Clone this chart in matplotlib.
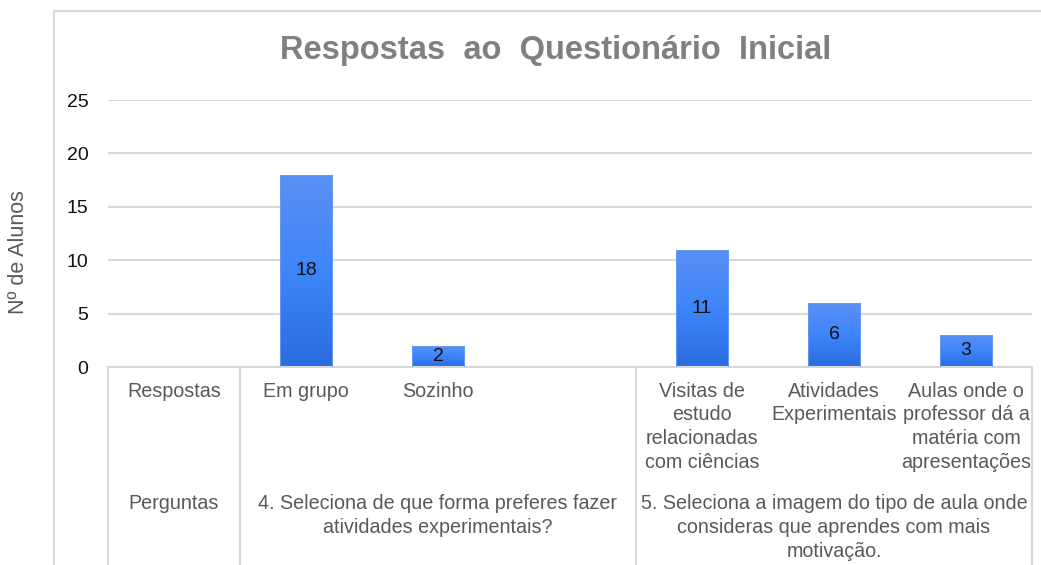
import numpy as np
import matplotlib
matplotlib.use('Agg')
import matplotlib.pyplot as plt
from matplotlib.colors import LinearSegmentedColormap
from matplotlib.patches import Rectangle

plt.rcParams['font.family'] = ['Liberation Sans', 'DejaVu Sans']

# categories (first level) and values, None = no bar
categorias = ['Respostas', 'Em grupo', 'Sozinho', '',
              'Visitas de\nestudo\nrelacionadas\ncom ciências',
              'Atividades\nExperimentais',
              'Aulas onde o\nprofessor dá a\nmatéria com\napresentações']
valores = [None, 18, 2, None, 11, 6, 3]

# second level (questions) with the category span they cover
perguntas = ['Perguntas',
             '4. Seleciona de que forma preferes fazer\natividades experimentais?',
             '5. Seleciona a imagem do tipo de aula onde\nconsideras que aprendes com mais\nmotivação.']
perguntas_span = [(0, 0), (1, 3), (4, 6)]

yticks = [0, 5, 10, 15, 20, 25]

W, H = 1041, 565
fig = plt.figure(figsize=(W / 100, H / 100), dpi=100)
ax = fig.add_axes([108 / W, (H - 367) / H, (1032 - 108) / W, (367 - 100) / H])

grid_c = '#d9d9d9'
txt_c = '#595959'

# chart border (left and top visible)
fig.patches.append(Rectangle((54 / W, -0.1), 1.2, (H - 11) / H + 0.1,
                             transform=fig.transFigure, fill=False,
                             edgecolor=grid_c, linewidth=1.5, zorder=0))

x = np.arange(len(categorias))

cmap = LinearSegmentedColormap.from_list('barra', ['#2a6ce0', '#3d86fa', '#5b90f3'])
grad = np.linspace(0, 1, 256).reshape(-1, 1)

for xi, v in zip(x, valores):
    if v is None:
        continue
    bar = ax.bar(xi, v, width=0.4, color='none', edgecolor='#6a9cf5', linewidth=0.6, zorder=3)[0]
    im = ax.imshow(grad, cmap=cmap, origin='lower', aspect='auto',
                   extent=[xi - 0.2, xi + 0.2, 0, v], zorder=2)
    im.set_clip_path(bar)
    ax.text(xi, v / 2, str(v), ha='center', va='center', fontsize=14, color='#111111', zorder=4)

ax.set_xlim(-0.5, len(categorias) - 0.5)
ax.set_ylim(0, 25)

ax.set_yticks(yticks)
ax.set_yticklabels([str(t) for t in yticks], fontsize=14, color='#111111')
ax.yaxis.grid(True, color=grid_c, linewidth=1.5)
ax.set_axisbelow(True)
ax.tick_params(axis='y', length=0, pad=14)
ax.set_xticks([])
for s in ['top', 'right', 'left']:
    ax.spines[s].set_visible(False)
ax.spines['bottom'].set_color(grid_c)
ax.spines['bottom'].set_linewidth(1.5)

ph = 367 - 100
ax.set_ylabel('Nº de Alunos', fontsize=15.5, color=txt_c)
ax.yaxis.set_label_coords((29 - 108) / 924, (367 - 252) / ph)

# category table below the axis
tr = ax.get_xaxis_transform()
def ypix(py):
    return (367 - py) / ph

for bx in [-0.5, 0.5, 3.5, 6.5]:
    ax.plot([bx, bx], [0, ypix(570)], transform=tr, color=grid_c, linewidth=1.5, clip_on=False)

for xi, lab in zip(x, categorias):
    ax.text(xi, ypix(382), lab, transform=tr, ha='center', va='top', fontsize=14.2,
            color=txt_c, linespacing=1.3, clip_on=False)

for lab, (a, b) in zip(perguntas, perguntas_span):
    ax.text((a + b) / 2, ypix(494), lab, transform=tr, ha='center', va='top', fontsize=14.2,
            color=txt_c, linespacing=1.32, clip_on=False)

fig.text(556 / W, 1 - 51 / H, 'Respostas  ao  Questionário  Inicial', ha='center', va='center',
         fontsize=23.5, fontweight='bold', color='#808080')

fig.savefig('out.png', dpi=100)
